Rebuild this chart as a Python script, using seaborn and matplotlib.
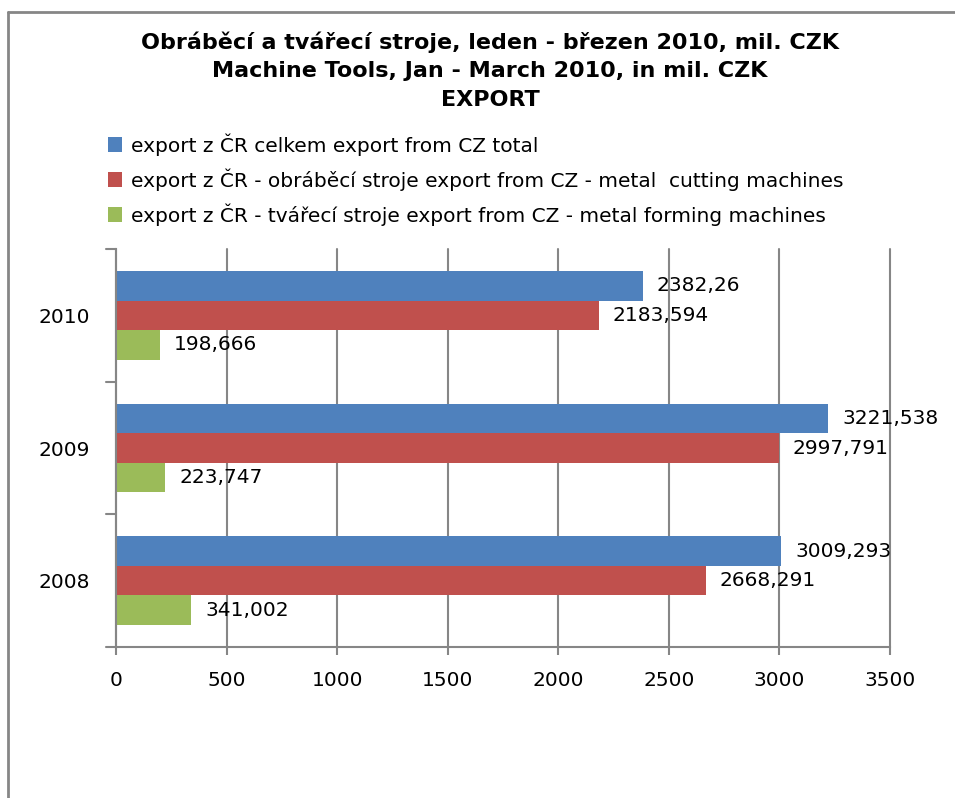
import matplotlib
matplotlib.use("Agg")
import matplotlib.pyplot as plt
import seaborn as sns
import pandas as pd
from matplotlib.lines import Line2D
from matplotlib.patches import Patch

# data
years = ["2010", "2009", "2008"]
series = [
    "export z ČR celkem export from CZ total",
    "export z ČR - obráběcí stroje export from CZ - metal  cutting machines",
    "export z ČR - tvářecí stroje export from CZ - metal forming machines",
]
total = [2382.26, 3221.538, 3009.293]
cutting = [2183.594, 2997.791, 2668.291]
forming = [198.666, 223.747, 341.002]
x_ticks = [0, 500, 1000, 1500, 2000, 2500, 3000, 3500]
title_lines = [
    "Obráběcí a tvářecí stroje, leden - březen 2010, mil. CZK",
    "Machine Tools, Jan - March 2010, in mil. CZK",
    "EXPORT",
]

colors = ["#4F81BD", "#C0504D", "#9BBB59"]
grid_col = "#868686"

rows = []
for name, vals in zip(series, [total, cutting, forming]):
    for y, v in zip(years, vals):
        rows.append({"year": y, "series": name, "value": v})
df = pd.DataFrame(rows)

sns.set_theme(style="white")
plt.rcParams["font.family"] = ["DejaVu Sans"]
plt.rcParams["text.color"] = "black"
plt.rcParams["xtick.labelcolor"] = "black"
plt.rcParams["ytick.labelcolor"] = "black"

fig = plt.figure(figsize=(9.55, 7.98), dpi=100)
ax = fig.add_axes([116 / 955, 1 - 647 / 798, (890 - 116) / 955, (647 - 249) / 798])

sns.barplot(data=df, x="value", y="year", hue="series", order=years,
            hue_order=series, palette=colors, orient="h", width=0.67,
            gap=0, saturation=1, errorbar=None, legend=False, ax=ax,
            edgecolor="none", linewidth=0)

# data labels with decimal comma
for cont in ax.containers:
    labs = [str(v).replace(".", ",") for v in cont.datavalues]
    ax.bar_label(cont, labels=labs, padding=10, fontsize=14.5, color="black")

ax.set_xlim(0, 3500)
ax.set_ylim(2.5, -0.5)
ax.set_xticks(x_ticks)
ax.set_xticklabels([str(t) for t in x_ticks], fontsize=14.5)
ax.set_ylabel("")
ax.set_xlabel("")
ax.tick_params(axis="y", labelsize=14.5, pad=19, length=0)
ax.tick_params(axis="x", pad=11, length=6, width=1.5, color=grid_col,
               direction="out", bottom=True)
ax.xaxis.grid(True, color=grid_col, linewidth=1.5)
for gl in ax.get_xgridlines():
    gl.set_clip_on(False)
ax.set_axisbelow(True)
for s in ["top", "right"]:
    ax.spines[s].set_visible(False)
for s in ["left", "bottom"]:
    ax.spines[s].set_color(grid_col)
    ax.spines[s].set_linewidth(1.5)

# category separator ticks on the y axis
for b in [-0.5, 0.5, 1.5, 2.5]:
    ax.plot([-0.013, 0], [b, b], transform=ax.get_yaxis_transform(),
            color=grid_col, lw=1.5, clip_on=False)

# title
for i, t in enumerate(title_lines):
    fig.text(490 / 955, 1 - (42 + 29 * i) / 798, t, ha="center", va="center",
             fontsize=16, fontweight="bold", color="black")

# legend
handles = [Patch(facecolor=c, edgecolor="none") for c in colors]
fig.legend(handles, series, loc="upper left",
           bbox_to_anchor=(100 / 955, 1 - 125 / 798), frameon=False,
           fontsize=14.5, handlelength=0.7, handleheight=0.7,
           handletextpad=0.45, labelspacing=0.62, borderaxespad=0,
           labelcolor="black")

# chart frame (left and top edges visible)
fig.add_artist(Line2D([7.5 / 955, 7.5 / 955], [0, 1 - 12 / 798],
                      transform=fig.transFigure, color=grid_col, lw=2))
fig.add_artist(Line2D([7.5 / 955, 1], [1 - 12 / 798, 1 - 12 / 798],
                      transform=fig.transFigure, color=grid_col, lw=2))

fig.savefig("out.png", dpi=100, facecolor="white")
